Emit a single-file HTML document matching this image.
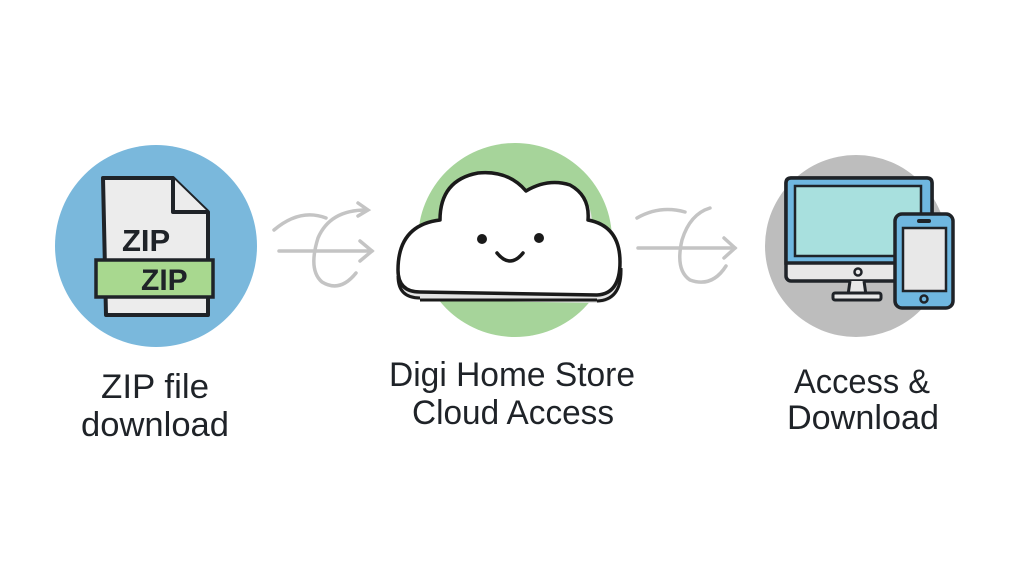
<!DOCTYPE html>
<html><head><meta charset="utf-8"><style>
html,body{margin:0;padding:0;background:#fff;}
svg{display:block}
text{font-family:"Liberation Sans",sans-serif;fill:#1f2328;}
</style></head><body>
<svg width="1024" height="576" viewBox="0 0 1024 576" xmlns="http://www.w3.org/2000/svg">
<rect width="1024" height="576" fill="#fff"/>
<circle cx="156" cy="246" r="101" fill="#7ab8dc"/>
<path d="M103 178 H173 L208 212 V315 H106 Z" fill="#ececec" stroke="#1f2328" stroke-width="4" stroke-linejoin="round"/>
<path d="M173 178 V212 H208" fill="#ececec" stroke="#1f2328" stroke-width="4" stroke-linejoin="round"/>
<text x="122" y="251" font-size="31" font-weight="bold">ZIP</text>
<rect x="96" y="260" width="117" height="37" fill="#a8d88f" stroke="#1f2328" stroke-width="3.5"/>
<text x="141" y="290" font-size="30" font-weight="bold">ZIP</text>
<circle cx="515" cy="240" r="97" fill="#a6d49a"/>
<path d="M420 300 Q398 300 398 276 Q398 228 440 222 Q440 180 478 173 Q508 170 526 190 Q548 176 570 185 Q590 196 592 220 Q622 228 622 270 Q622 303 597 303 Z" fill="#e3e3e3"/>
<path d="M420 292 Q398 292 398 270 Q398 225 440 220 Q440 180 478 173 Q508 170 526 191 Q548 178 570 185 Q590 196 588 220 Q620 226 620 262 Q620 294 597 295 Z" fill="#fff" stroke="#1a1a1a" stroke-width="3.5" stroke-linejoin="round"/>
<path d="M420 298 Q398 298 398 276 M597 301 Q622 300 621 268 M420 300 H597" fill="none" stroke="#1a1a1a" stroke-width="3"/>
<circle cx="482" cy="239" r="5" fill="#1a1a1a"/>
<circle cx="539" cy="238" r="5" fill="#1a1a1a"/>
<path d="M497 253 Q510 269 523 253" fill="none" stroke="#1a1a1a" stroke-width="3.5" stroke-linecap="round"/>
<circle cx="856" cy="246" r="91" fill="#bdbdbd"/>
<rect x="786" y="178" width="146" height="103" rx="5" fill="#e8e8e8" stroke="#1f2328" stroke-width="3.5"/>
<path d="M786 183 Q786 178 791 178 H927 Q932 178 932 183 V263 H786 Z" fill="#6fb7e0" stroke="#1f2328" stroke-width="3.5"/>
<rect x="795" y="186" width="126" height="70" fill="#a8e0de" stroke="#1f2328" stroke-width="2.5"/>
<circle cx="858" cy="272" r="3.5" fill="none" stroke="#1f2328" stroke-width="2.5"/>
<path d="M850 281 L848 295 H866 L864 281" fill="#e8e8e8" stroke="#1f2328" stroke-width="3"/>
<rect x="833" y="293" width="48" height="7" rx="2" fill="#e8e8e8" stroke="#1f2328" stroke-width="3"/>
<rect x="895" y="214" width="58" height="94" rx="7" fill="#6fb7e0" stroke="#1f2328" stroke-width="3.5"/>
<rect x="903" y="228" width="43" height="63" fill="#e8e8e8" stroke="#1f2328" stroke-width="2.5"/>
<rect x="917" y="219" width="14" height="4" rx="2" fill="#1f2328"/>
<circle cx="924" cy="299" r="3.5" fill="none" stroke="#1f2328" stroke-width="2.5"/>
<g fill="none" stroke="#c4c4c4" stroke-width="3.5" stroke-linecap="round">
<path d="M274 230 Q300 208 326 218"/>
<path d="M279 251 H372"/>
<path d="M360 241 L372 251 L360 261"/>
<path d="M356 273 Q340 293 322 282 Q308 270 318 238 Q330 210 366 210"/>
<path d="M358 203 L368 210 L358 216"/>
<path d="M637 218 Q660 205 685 212"/>
<path d="M638 248 H735"/>
<path d="M724 238 L735 248 L724 258"/>
<path d="M726 266 Q712 288 690 280 Q675 270 682 240 Q690 214 710 208"/>
</g>
<g font-size="34" text-anchor="middle">
<text x="155" y="398" textLength="108" lengthAdjust="spacingAndGlyphs">ZIP file</text>
<text x="155" y="436" textLength="148" lengthAdjust="spacingAndGlyphs">download</text>
<text x="512" y="386" textLength="246" lengthAdjust="spacingAndGlyphs">Digi Home Store</text>
<text x="513" y="424" textLength="202" lengthAdjust="spacingAndGlyphs">Cloud Access</text>
<text x="862" y="393" textLength="136" lengthAdjust="spacingAndGlyphs">Access &amp;</text>
<text x="863" y="429" textLength="152" lengthAdjust="spacingAndGlyphs">Download</text>
</g>
</svg>
</body></html>
